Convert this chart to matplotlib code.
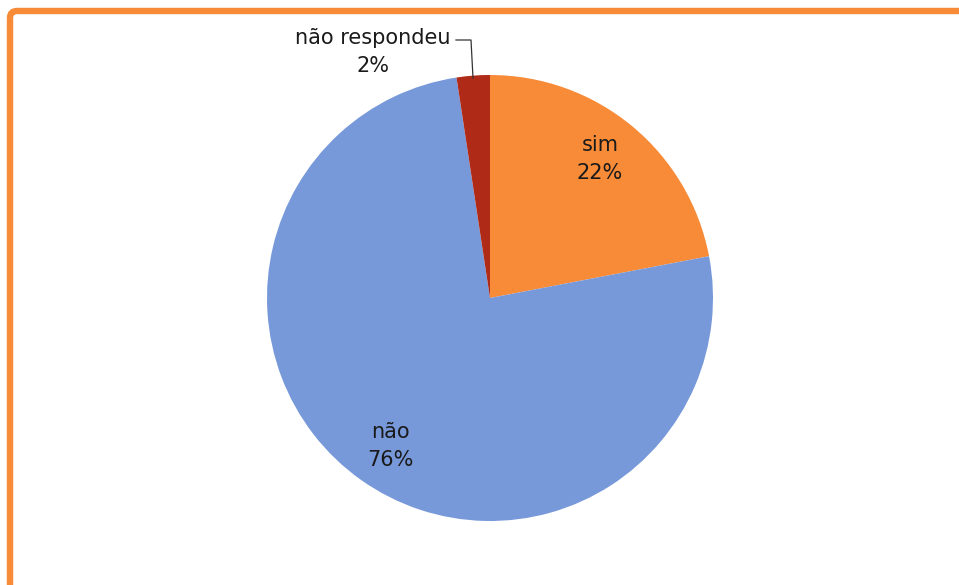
import matplotlib.pyplot as plt
from matplotlib.patches import FancyBboxPatch

labels = ['sim', 'não', 'não respondeu']
values = [22.0, 75.6, 2.4]
shown_pct = [22, 76, 2]
colors = ['#F78B38', '#7799D9', '#B02A18']

W, H = 959, 585
fig = plt.figure(figsize=(W / 100, H / 100), dpi=100)
ax = fig.add_axes([0, 0, 1, 1])

# orange frame (only top and left visible)
frame = FancyBboxPatch((10, -40), 1000, 574 + 40, boxstyle='round,pad=0,rounding_size=7',
                       fill=False, edgecolor='#F78B38', linewidth=4.6)
ax.add_patch(frame)

cx, cy, r = 490, H - 298, 223
ax.pie(values, colors=colors, startangle=90, counterclock=False,
       center=(cx, cy), radius=r, frame=True,
       wedgeprops=dict(linewidth=0))
ax.set_xlim(0, W)
ax.set_ylim(0, H)
ax.set_aspect('equal')
ax.axis('off')

font = dict(fontsize=15, color='#1a1a1a', ha='center', va='center', linespacing=1.5)
ax.text(600, H - 159, '{}\n{}%'.format(labels[0], shown_pct[0]), **font)
ax.text(390, H - 446, '{}\n{}%'.format(labels[1], shown_pct[1]), **font)
ax.text(373, H - 52, '{}\n{}%'.format(labels[2], shown_pct[2]), **font)

# leader line for the small slice
ax.plot([456, 471, 473], [H - 40, H - 40, H - 78], color='#333333', linewidth=0.9)

fig.savefig('out.png', dpi=100, facecolor='white')
